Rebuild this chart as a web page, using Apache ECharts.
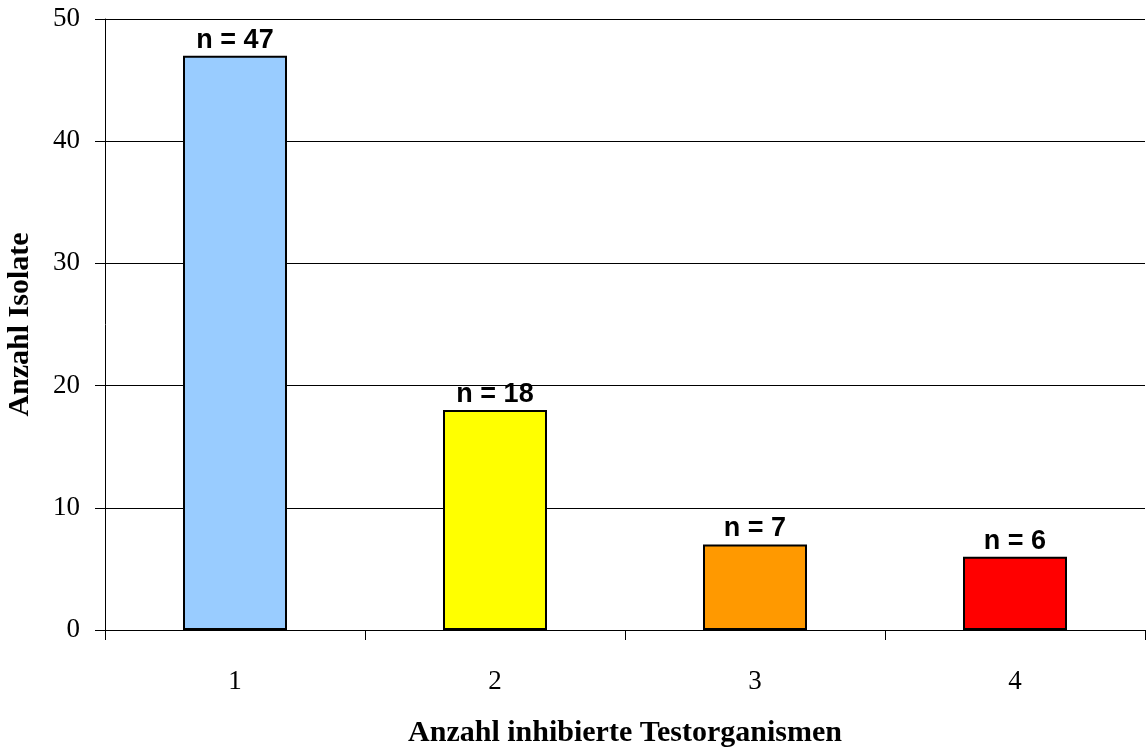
<!DOCTYPE html>
<html><head><meta charset="utf-8">
<script src="https://cdn.jsdelivr.net/npm/echarts@6/dist/echarts.min.js"></script>
<style>html,body{margin:0;padding:0;background:#fff}#c{width:1146px;height:749px}</style>
</head><body><div id="c"></div>
<script>
const categories = ['1', '2', '3', '4'];
const values = [47, 18, 7, 6];
const labels = ['n = 47', 'n = 18', 'n = 7', 'n = 6'];
const colors = ['#99CCFF', '#FFFF00', '#FF9900', '#FF0000'];
const yTicks = [0, 10, 20, 30, 40, 50];

const chart = echarts.init(document.getElementById('c'));
chart.setOption({
  animation: false,
  backgroundColor: '#fff',
  grid: { left: 105, right: 1, top: 19, bottom: 119, outerBoundsMode: 'none', containLabel: false },
  xAxis: {
    type: 'category', data: categories,
    name: 'Anzahl inhibierte Testorganismen', nameLocation: 'middle', nameGap: 88,
    nameTextStyle: { fontFamily: 'Liberation Serif', fontWeight: 'bold', fontSize: 30, color: '#000' },
    axisLine: { lineStyle: { color: '#000', width: 1 } },
    axisTick: { show: true, length: 10, lineStyle: { color: '#000' }, alignWithLabel: false },
    axisLabel: { fontFamily: 'Liberation Serif', fontSize: 27, color: '#000', margin: 38 }
  },
  yAxis: {
    type: 'value', min: yTicks[0], max: yTicks[yTicks.length - 1], interval: 10,
    name: 'Anzahl Isolate', nameLocation: 'middle', nameGap: 70,
    nameTextStyle: { fontFamily: 'Liberation Serif', fontWeight: 'bold', fontSize: 30, color: '#000' },
    axisLine: { show: true, lineStyle: { color: '#000', width: 1 } },
    axisTick: { show: true, length: 10, lineStyle: { color: '#000' } },
    axisLabel: { fontFamily: 'Liberation Serif', fontSize: 27, color: '#000', margin: 25 },
    splitLine: { show: true, lineStyle: { color: '#000', width: 1 } }
  },
  series: [{
    type: 'bar', barWidth: '40%',
    data: values.map((v, i) => ({
      value: v,
      itemStyle: { color: colors[i], borderColor: '#000', borderWidth: 2 },
      label: { formatter: labels[i] }
    })),
    label: { show: true, position: 'top', distance: 2, fontFamily: 'Liberation Sans', fontWeight: 'bold', fontSize: 27, color: '#000' }
  }]
});
</script></body></html>
